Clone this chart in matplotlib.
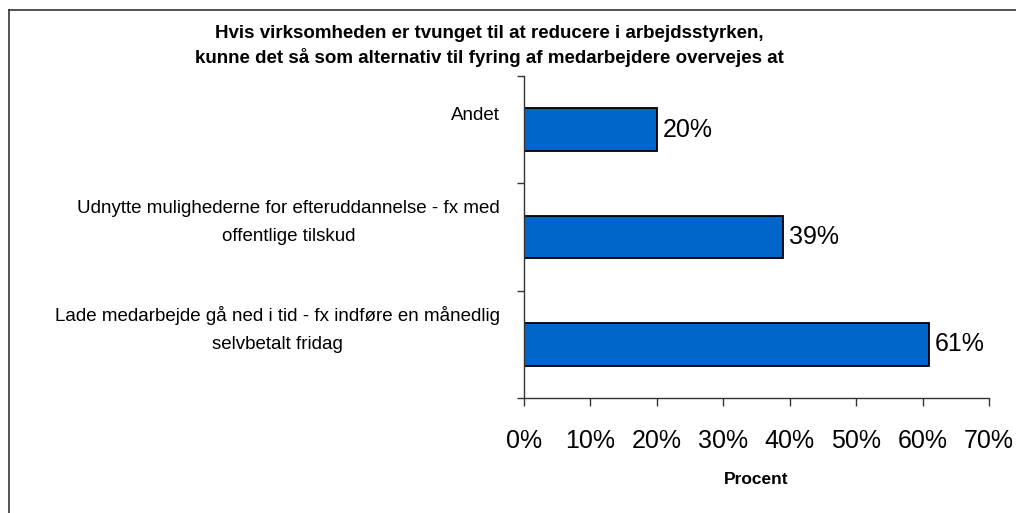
import matplotlib as mpl
mpl.use('Agg')
from matplotlib import pyplot as plt
from matplotlib.lines import Line2D
import numpy as np

plt.rcParams['font.family'] = ['Liberation Sans', 'DejaVu Sans']

### data
categories = ['Andet',
              'Udnytte mulighederne for efteruddannelse - fx med\noffentlige tilskud',
              'Lade medarbejde gå ned i tid - fx indføre en månedlig\nselvbetalt fridag']
values = [20, 39, 61]
value_labels = ['20%', '39%', '61%']
x_ticks = [0, 10, 20, 30, 40, 50, 60, 70]
x_ticklabels = ['0%', '10%', '20%', '30%', '40%', '50%', '60%', '70%']

title = ('Hvis virksomheden er tvunget til at reducere i arbejdsstyrken,\n'
         'kunne det så som alternativ til fyring af medarbejdere overvejes at')

fig = plt.figure(figsize=(10.16, 5.13), dpi=100)
ax = fig.add_axes([0.5157, 0.2242, 0.4577, 0.6277])

ypos = np.arange(len(categories))
bars = ax.barh(ypos, values, height=0.4, color='#0066CC',
               edgecolor='black', linewidth=1.3)

for b, lab in zip(bars, value_labels):
    ax.text(b.get_width() + 0.9, b.get_y() + b.get_height() / 2, lab,
            va='center', ha='left', fontsize=18)

ax.set_xlim(0, 70)
ax.set_ylim(2.5, -0.5)

ax.set_xticks(x_ticks)
ax.set_xticklabels(x_ticklabels, fontsize=18)
ax.tick_params(axis='x', direction='out', length=6, width=1, pad=16,
               color='#333333')

# category boundaries as ticks, labels written as text a bit above bar centre
ax.set_yticks([-0.5, 0.5, 1.5, 2.5])
ax.set_yticklabels([])
ax.tick_params(axis='y', direction='out', length=5, width=1, color='#333333')
for y, cat in zip(ypos, categories):
    ax.annotate(cat, xy=(0, y), xycoords=('axes fraction', 'data'),
                xytext=(-17.5, 10.5), textcoords='offset points',
                ha='right', va='center', multialignment='center',
                fontsize=13.5, linespacing=1.85)

for s in ['top', 'right']:
    ax.spines[s].set_visible(False)
for s in ['left', 'bottom']:
    ax.spines[s].set_color('#333333')
    ax.spines[s].set_linewidth(1)

ax.set_xlabel('Procent', fontsize=12.5, fontweight='bold', labelpad=14)

fig.text(0.482, 0.91, title, ha='center', va='center', fontsize=13.5,
         fontweight='bold', linespacing=1.4)

# frame around the chart (only left and top edges are visible)
fig.add_artist(Line2D([9/1016, 9/1016], [0, 1 - 10/513], color='#333333',
                      linewidth=1.2, transform=fig.transFigure))
fig.add_artist(Line2D([9/1016, 1], [1 - 10/513, 1 - 10/513], color='#333333',
                      linewidth=1.2, transform=fig.transFigure))

fig.savefig('out.png', dpi=100)
plt.close()
